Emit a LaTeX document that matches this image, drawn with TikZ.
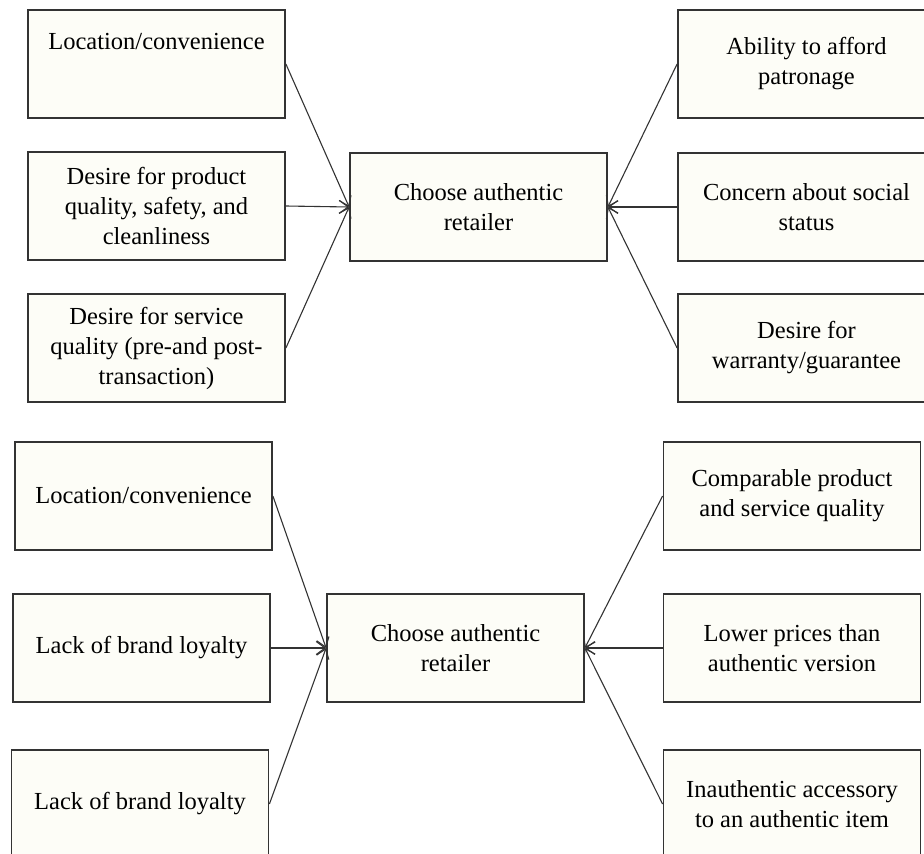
\documentclass[tikz,border=0pt]{standalone}
\usepackage{fontspec}
\setmainfont{Liberation Serif}
\usetikzlibrary{arrows.meta}
\definecolor{boxfill}{HTML}{FDFDF7}
\definecolor{boxline}{HTML}{333333}
\begin{document}
\begin{tikzpicture}[x=1pt,y=-1pt,
	factor/.style={draw=boxline,fill=boxfill,line width=1.8pt,minimum width=257pt,minimum height=108pt,inner sep=0pt,align=center,font=\fontsize{24.5}{30}\selectfont},
	link/.style={draw=boxline,line width=1.1pt,-{Straight Barb[length=9pt,width=13pt]}}]
\useasboundingbox (0,0) rectangle (924,854);
\clip (0,0) rectangle (924,854);
% top: reasons for the authentic retailer
\node[factor] (loc) at (156.5,64) {Location/convenience\\[15pt]~};
\node[factor] (prodq) at (156.5,206) {Desire for product\\quality, safety, and\\cleanliness};
\node[factor] (servq) at (156.5,348) {Desire for service\\quality (pre-and post-\\transaction)};
\node[factor] (choice) at (478.5,207) {Choose authentic\\retailer};
\node[factor] (afford) at (806.5,64) {Ability to afford\\patronage};
\node[factor] (status) at (806.5,207) {Concern about social\\status};
\node[factor] (warranty) at (806.5,348) {Desire for\\warranty/guarantee};
\draw[link] (loc.east) -- (choice.west);
\draw[link] (prodq.east) -- (choice.west);
\draw[link] (servq.east) -- (choice.west);
\draw[link] (afford.west) -- (choice.east);
\draw[link] (status.west) -- (choice.east);
\draw[link] (warranty.west) -- (choice.east);
% bottom
\node[factor] (loc2) at (143.5,496) {Location/convenience};
\node[factor] (loyal) at (141.5,648) {Lack of brand loyalty};
\node[factor] (loyal2) at (140,804) {Lack of brand loyalty};
\node[factor] (choice2) at (455.5,648) {Choose authentic\\retailer};
\node[factor] (compq) at (792,496) {Comparable product\\and service quality};
\node[factor] (price) at (792,648) {Lower prices than\\authentic version};
\node[factor] (accessory) at (792,804) {Inauthentic accessory\\to an authentic item};
\draw[link] (loc2.east) -- (choice2.west);
\draw[link] (loyal.east) -- (choice2.west);
\draw[link] (loyal2.east) -- (choice2.west);
\draw[link] (compq.west) -- (choice2.east);
\draw[link] (price.west) -- (choice2.east);
\draw[link] (accessory.west) -- (choice2.east);
\end{tikzpicture}
\end{document}
